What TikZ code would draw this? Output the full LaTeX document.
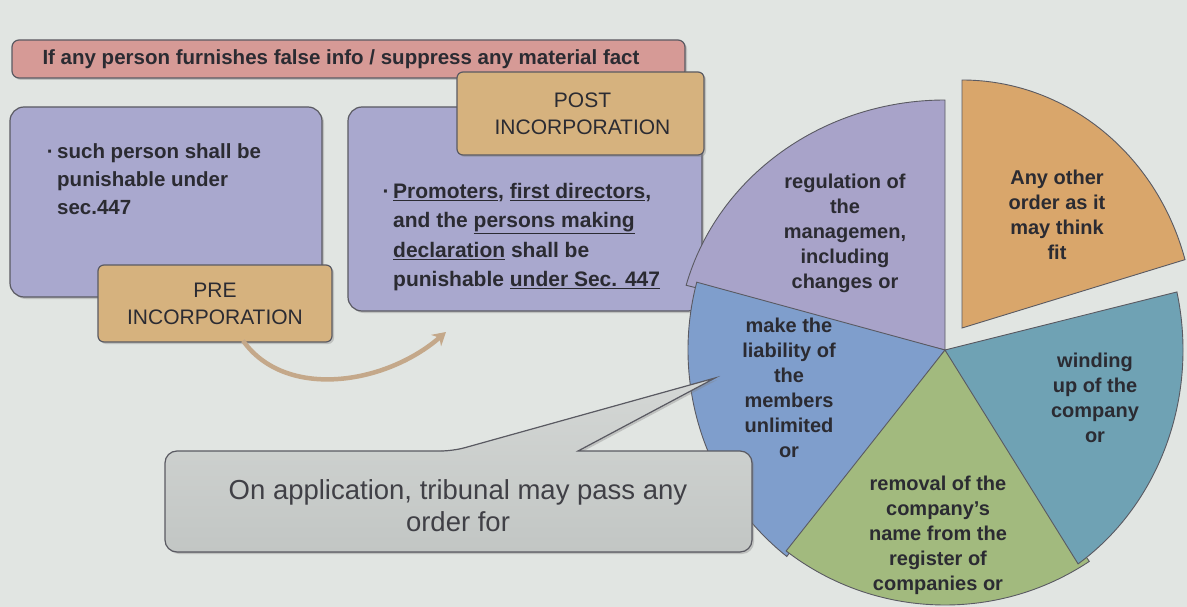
\documentclass[tikz,border=0pt]{standalone}
\usepackage{fontspec}
\setmainfont{Liberation Sans}
\usetikzlibrary{shadows,arrows.meta,calc}
\definecolor{bg}{HTML}{E1E5E2}
\definecolor{banner}{HTML}{D69A96}
\definecolor{lav}{HTML}{A9A8CE}
\definecolor{tagtan}{HTML}{D6B27E}
\definecolor{ink}{HTML}{2B2B32}
\definecolor{edge}{HTML}{5A5A62}
\definecolor{slPurple}{HTML}{A8A3C9}
\definecolor{slBlue}{HTML}{7F9ECC}
\definecolor{slGreen}{HTML}{A2BA7E}
\definecolor{slTeal}{HTML}{6FA2B4}
\definecolor{slOrange}{HTML}{D9A66B}
\definecolor{arrowtan}{HTML}{C4A88A}
\definecolor{bubbleTop}{HTML}{D4D7D5}
\definecolor{bubbleBot}{HTML}{C2C6C4}

% one pie slice: style, centre, start/end angle (degrees, counter-clockwise), x/y radius
\newcommand\pieslice[6]{%
  \filldraw[#1] (#2) -- ++({#5*cos(-(#3))},{#6*sin(-(#3))})
    arc[start angle=-(#3), end angle=-(#4), x radius=#5, y radius=#6] -- cycle;}

\begin{document}
\begin{tikzpicture}[x=1pt,y=-1pt,
  shade/.style={drop shadow={shadow xshift=2pt,shadow yshift=-2pt,opacity=.35}},
  panel/.style={draw=edge,line width=1.2pt,rounded corners=14pt,shade},
  tagbox/.style={draw=edge,line width=1.2pt,fill=tagtan,rounded corners=6pt,shade},
  body/.style={text=ink,font=\fontsize{20.5}{28}\selectfont\bfseries,align=left,inner sep=0pt},
  tagtext/.style={text=ink,font=\fontsize{21}{27}\selectfont,align=center,inner sep=0pt},
  slicetext/.style={text=ink,font=\fontsize{20}{25}\selectfont\bfseries,align=center,inner sep=0pt},
  slice/.style={draw=edge,line width=0.9pt}]

% canvas
\useasboundingbox (0,0) rectangle (1187,607);
\fill[bg] (0,0) rectangle (1187,607);

% heading banner
\node[panel,fill=banner,rounded corners=7pt,minimum width=673pt,minimum height=38pt] (banner) at (348.5,59) {};
\node[text=ink,font=\fontsize{20.5}{24}\selectfont\bfseries,inner sep=0pt] (bannertext) at (341,59)
  {If any person furnishes false info / suppress any material fact};

% pre-incorporation panel
\node[panel,fill=lav,minimum width=312pt,minimum height=190pt] (prebox) at (166,202) {};
\node[body,anchor=north west] (pretext) at (57,143)
  {\llap{·\,}such person shall be\\punishable under\\sec.447};
\node[tagbox,minimum width=234pt,minimum height=77pt] (pre) at (215,303.5) {};
\node[tagtext] (pretag) at (pre.center) {PRE\\INCORPORATION};

% post-incorporation panel
\node[panel,fill=lav,minimum width=354pt,minimum height=204pt] (postbox) at (525,209) {};
\node[tagbox,minimum width=247pt,minimum height=83pt] (post) at (580.5,113.5) {};
\node[tagtext] (posttag) at ([xshift=2pt]post.center) {POST\\INCORPORATION};
\node[body,anchor=west,font=\fontsize{21}{29.5}\selectfont\bfseries] (posttext) at (393,237)
  {\llap{·\,}\underline{Promoters}, \underline{first directors},\\
   and the \underline{persons making}\\
   \underline{declaration} shall be\\
   punishable \underline{under Sec. 447}};

% arrow from pre to post
\coordinate (arrEnd) at (446,332);
\draw[arrowtan,line width=4.5pt,-{Stealth[length=13pt,width=15pt]}]
  ([xshift=28pt,yshift=2pt]pre.south) .. controls (285,400) and (385,385) .. (arrEnd);

% pie of orders
\coordinate (pc) at (945,350);
\coordinate (oc) at (962,328);
\pieslice{slice,fill=slPurple}{pc}{90}{165}{268}{250}
\pieslice{slice,fill=slBlue}{pc}{165}{232}{257}{262}
\pieslice{slice,fill=slGreen}{pc}{232}{304}{258}{255}
\pieslice{slice,fill=slTeal}{pc}{304}{373}{238}{258}
\pieslice{slice,fill=slOrange}{oc}{16}{90}{232}{248}

\node[slicetext] (sReg) at (845,233) {regulation of\\the\\managemen,\\including\\changes or};
\node[slicetext] (sAny) at (1057,215) {Any other\\order as it\\may think\\fit};
\node[slicetext] (sLia) at (789,388) {make the\\liability of\\the\\members\\unlimited\\or};
\node[slicetext] (sWind) at (1095,398) {winding\\up of the\\company\\or};
\node[slicetext] (sRem) at (938,535) {removal of the\\company’s\\name from the\\register of\\companies or};

% speech callout
\coordinate (tip) at (715,378);
\filldraw[draw=edge,line width=1.2pt,top color=bubbleTop,bottom color=bubbleBot,shade]
  (165,500) [rounded corners=12pt] -- (165,451) -- (453,451)
  [sharp corners] -- (tip) -- (578,451)
  [rounded corners=12pt] -- (752,451) -- (752,552) -- (165,552) -- cycle;
\node[text=ink!90,font=\fontsize{27.5}{32}\selectfont,align=center,inner sep=0pt] (apply) at (458,506)
  {On application, tribunal may pass any\\order for};
\end{tikzpicture}
\end{document}
